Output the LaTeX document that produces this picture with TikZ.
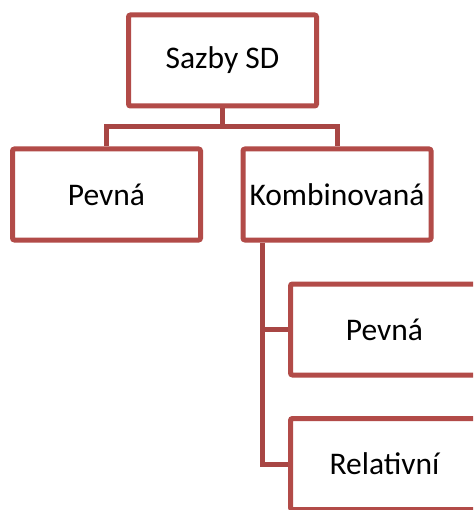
\documentclass[tikz,border=0pt]{standalone}
\usepackage{fontspec}
\setmainfont{Carlito}
\definecolor{boxred}{RGB}{178,75,72}
\definecolor{linered}{RGB}{168,70,68}
\begin{document}
\begin{tikzpicture}[x=1pt,y=-1pt,
  box/.style={draw=boxred, line width=5pt, fill=white, rounded corners=2pt,
    rectangle, minimum width=188pt, minimum height=91pt, inner sep=0pt,
    font=\fontsize{31.5}{38}\selectfont},
  conn/.style={draw=linered, line width=5pt}]
\useasboundingbox (0,0) rectangle (473,510);
\clip (0,0) rectangle (473,510);
\fill[white] (0,0) rectangle (473,510);
\node[box] (top) at (222.5,60.5) {Sazby SD};
\node[box] (left) at (106.5,194.5) {Pevná};
\node[box] (komb) at (337,194.5) {Kombinovaná};
\node[box] (pev) at (384.5,329.5) {Pevná};
\node[box] (rel) at (384.5,464) {Relativní};
\coordinate (j) at (222.5,127);
\coordinate (v) at (262,243);
\begin{scope}[on background layer/.try]
\end{scope}
\draw[conn] (top.south) -- (j);
\draw[conn] (j) -| (left.north);
\draw[conn] (j) -| (komb.north);
\draw[conn] (v) |- (pev.west);
\draw[conn] (v) |- (rel.west);
\end{tikzpicture}
\end{document}
